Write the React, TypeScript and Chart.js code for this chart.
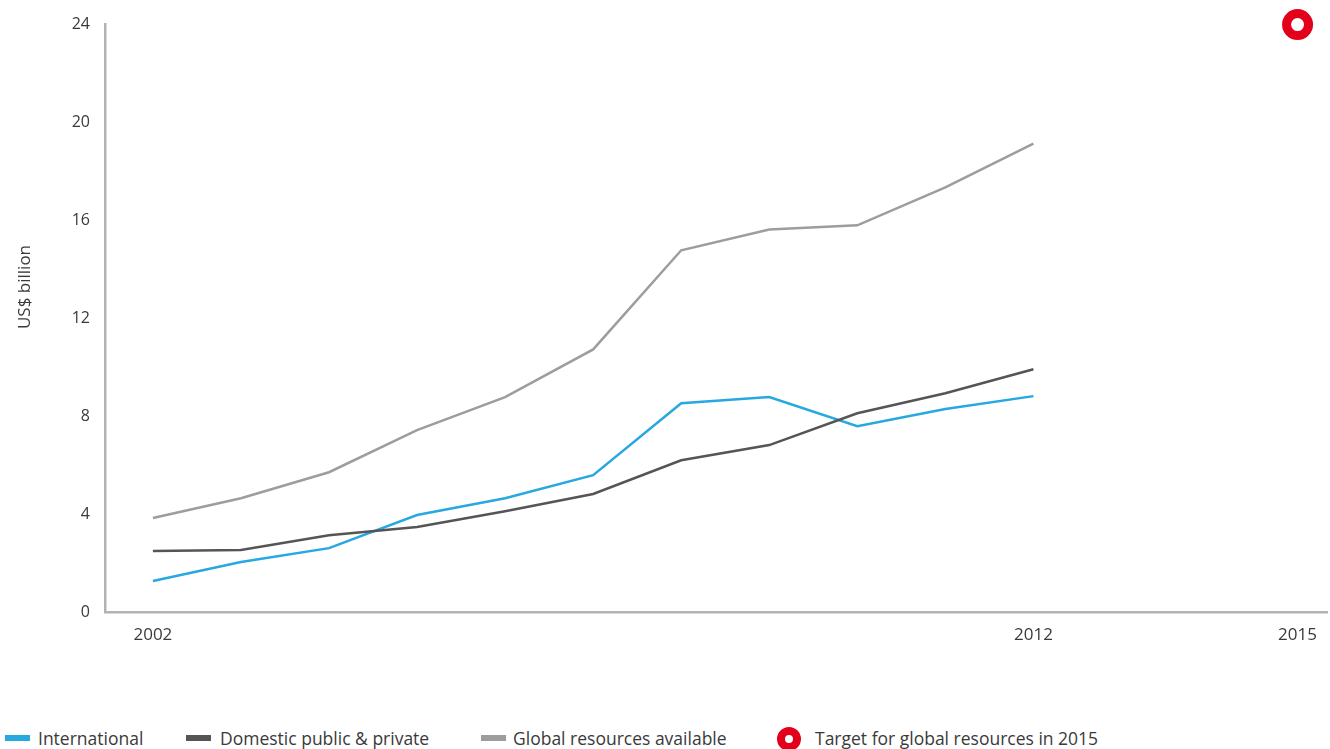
import React, { useEffect, useRef } from "react";
import { Chart, registerables } from "chart.js";

Chart.register(...registerables);

const years = [2002, 2003, 2004, 2005, 2006, 2007, 2008, 2009, 2010, 2011, 2012];
const international = [1.27, 2.04, 2.61, 3.96, 4.65, 5.59, 8.53, 8.78, 7.59, 8.29, 8.82];
const domestic = [2.49, 2.53, 3.14, 3.47, 4.12, 4.82, 6.2, 6.82, 8.12, 8.94, 9.92];
const globalResources = [3.84, 4.65, 5.71, 7.43, 8.78, 10.73, 14.78, 15.63, 15.8, 17.35, 19.14];
const targetYears = [2015];
const targetValues = [24];
const xTickYears = [2002, 2012, 2015];

const FONT = "'Open Sans', 'DejaVu Sans', sans-serif";
const BLUE = "#27a8e0";
const DARK = "#555555";
const GREY = "#9d9d9d";
const RED = "#e2001a";
const TEXT = "#3a3a3a";

const toPoints = (xs: number[], ys: number[]) => xs.map((x, i) => ({ x, y: ys[i] }));

const yTitlePlugin = {
  id: "yTitle",
  afterDraw(chart: any) {
    const ctx = chart.ctx;
    ctx.save();
    ctx.translate(25, 287);
    ctx.rotate(-Math.PI / 2);
    ctx.font = `17px ${FONT}`;
    ctx.fillStyle = TEXT;
    ctx.textAlign = "center";
    ctx.textBaseline = "middle";
    ctx.fillText("US$ billion", 0, 0);
    ctx.restore();
  },
};

function Legend() {
  const text: React.CSSProperties = {
    position: "absolute",
    top: 726,
    fontFamily: FONT,
    fontSize: 17.5,
    color: TEXT,
    lineHeight: "24px",
    whiteSpace: "nowrap",
  };
  const sw = (left: number, color: string): React.CSSProperties => ({
    position: "absolute",
    left,
    top: 735,
    width: 25,
    height: 6,
    background: color,
  });
  return (
    <>
      <div style={sw(5, BLUE)} />
      <div style={{ ...text, left: 38 }}>International</div>
      <div style={sw(186, DARK)} />
      <div style={{ ...text, left: 220 }}>Domestic public &amp; private</div>
      <div style={sw(481, GREY)} />
      <div style={{ ...text, left: 513 }}>Global resources available</div>
      <div
        style={{
          position: "absolute",
          left: 777,
          top: 727,
          width: 8,
          height: 8,
          borderRadius: "50%",
          border: `8px solid ${RED}`,
          background: "#fff",
        }}
      />
      <div style={{ ...text, left: 815 }}>Target for global resources in 2015</div>
    </>
  );
}

export default function App() {
  const ref = useRef<HTMLCanvasElement>(null);

  useEffect(() => {
    if (!ref.current) return;
    const lineDs = (label: string, data: number[], color: string) => ({
      label,
      data: toPoints(years, data),
      borderColor: color,
      backgroundColor: color,
      borderWidth: 2.5,
      pointRadius: 0,
      tension: 0,
      fill: false,
    });
    const chart = new Chart(ref.current, {
      type: "line",
      data: {
        datasets: [
          lineDs("Global resources available", globalResources, GREY),
          lineDs("Domestic public & private", domestic, DARK),
          lineDs("International", international, BLUE),
          {
            label: "Target for global resources in 2015",
            data: toPoints(targetYears, targetValues),
            showLine: false,
            pointRadius: 11,
            pointBorderWidth: 9,
            pointBorderColor: RED,
            pointBackgroundColor: "#ffffff",
            borderColor: RED,
            backgroundColor: "#ffffff",
            clip: false,
          } as any,
        ],
      },
      options: {
        responsive: false,
        animation: false,
        layout: { autoPadding: false, padding: { top: 24, left: 0, right: 0, bottom: 0 } },
        plugins: {
          legend: { display: false },
          tooltip: { enabled: false },
        },
        scales: {
          x: {
            type: "linear",
            min: 2001.456,
            max: 2015.34,
            grid: { display: false, drawTicks: false },
            border: { display: true, color: "#b3b3b3", width: 2.5 },
            afterBuildTicks: (scale: any) => {
              scale.ticks = xTickYears.map((v) => ({ value: v }));
            },
            afterFit: (scale: any) => {
              scale.height = 88;
            },
            ticks: {
              padding: 13,
              color: TEXT,
              font: { family: FONT, size: 17 },
              callback: (v: any) => String(v),
              maxRotation: 0,
              autoSkip: false,
            },
          },
          y: {
            type: "linear",
            min: 0,
            max: 24,
            grid: { display: false, drawTicks: false },
            border: { display: true, color: "#b3b3b3", width: 2.5 },
            afterFit: (scale: any) => {
              scale.width = 105;
            },
            ticks: {
              stepSize: 4,
              padding: 15,
              color: TEXT,
              font: { family: FONT, size: 16 },
            },
          },
        },
      },
      plugins: [yTitlePlugin],
    } as any);
    return () => chart.destroy();
  }, []);

  return (
    <div style={{ position: "absolute", left: 0, top: 0, width: 1330, height: 749, background: "#fff" }}>
      <canvas ref={ref} width={1330} height={700} style={{ position: "absolute", left: 0, top: 0 }} />
      <Legend />
    </div>
  );
}
